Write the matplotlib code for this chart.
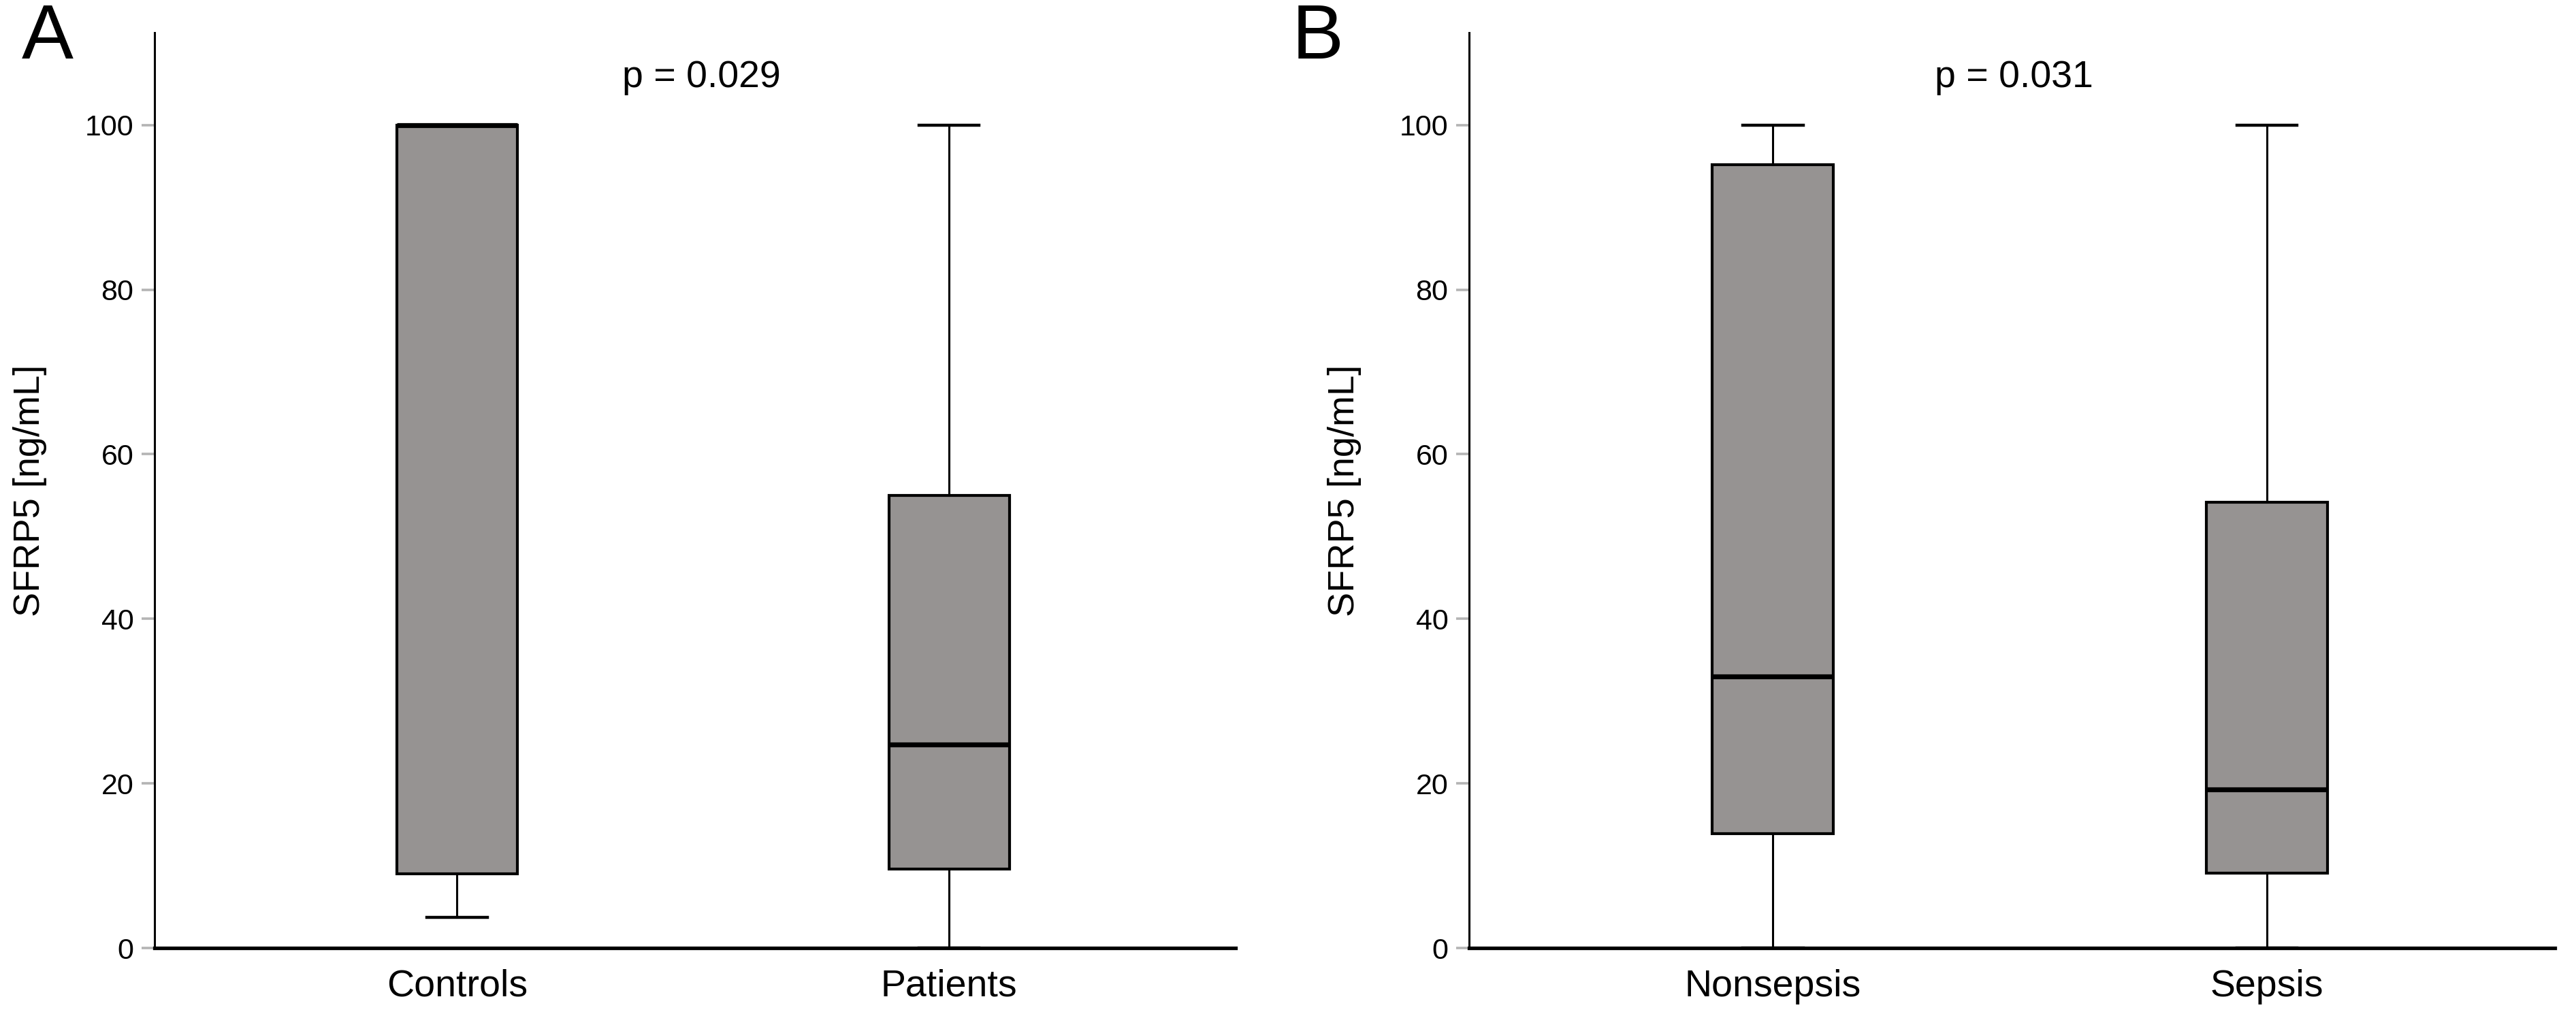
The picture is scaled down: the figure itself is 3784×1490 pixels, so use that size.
import matplotlib
matplotlib.use("Agg")
import matplotlib.pyplot as plt

plt.rcParams["font.family"] = ["Liberation Sans", "DejaVu Sans"]

# panel A
groups_a = ["Controls", "Patients"]
q1_a = [9.0, 9.6]
med_a = [100.0, 24.7]
q3_a = [100.0, 55.0]
whislo_a = [3.7, 0.0]
whishi_a = [100.0, 100.0]
p_a = "p = 0.029"

# panel B
groups_b = ["Nonsepsis", "Sepsis"]
q1_b = [13.9, 9.1]
med_b = [33.0, 19.3]
q3_b = [95.2, 54.2]
whislo_b = [0.0, 0.0]
whishi_b = [100.0, 100.0]
p_b = "p = 0.031"

yticks = [0, 20, 40, 60, 80, 100]
box_color = "#969392"


def make_stats(labels, q1, med, q3, lo, hi):
    return [dict(label=l, q1=a, med=m, q3=b, whislo=w0, whishi=w1, fliers=[])
            for l, a, m, b, w0, w1 in zip(labels, q1, med, q3, lo, hi)]


def draw_panel(ax, stats, ptext, px):
    ax.bxp(stats, positions=[1, 2], widths=0.245, patch_artist=True,
           showfliers=False,
           boxprops=dict(facecolor=box_color, edgecolor="black", linewidth=1.5),
           medianprops=dict(color="black", linewidth=2.6),
           whiskerprops=dict(color="black", linewidth=1.1),
           capprops=dict(color="black", linewidth=1.6),
           capwidths=0.122)
    ax.set_xlim(0.385, 2.582)
    ax.set_ylim(0, 111.2)
    ax.set_yticks(yticks)
    ax.spines["top"].set_visible(False)
    ax.spines["right"].set_visible(False)
    ax.spines["left"].set_linewidth(1.1)
    ax.spines["bottom"].set_linewidth(1.9)
    ax.spines["left"].set_zorder(3)
    ax.spines["bottom"].set_zorder(3)
    ax.tick_params(axis="y", length=7, width=1.3, color="#b4b4b4", pad=4, labelsize=15.5)
    ax.tick_params(axis="x", length=0, pad=11, labelsize=20)
    ax.set_ylabel("SFRP5 [ng/mL]", fontsize=19.5, labelpad=20)
    ax.text(px, 105.8, ptext, transform=ax.get_yaxis_transform(),
            ha="center", va="center", fontsize=20)


fig = plt.figure(figsize=(18.92, 7.45), dpi=200)
ax1 = fig.add_axes([0.060, 0.065, 0.4196, 0.9026])
ax2 = fig.add_axes([0.5703, 0.065, 0.4214, 0.9026])

draw_panel(ax1, make_stats(groups_a, q1_a, med_a, q3_a, whislo_a, whishi_a), p_a, 0.506)
draw_panel(ax2, make_stats(groups_b, q1_b, med_b, q3_b, whislo_b, whishi_b), p_b, 0.502)

fig.text(0.0085, 0.997, "A", fontsize=41, ha="left", va="top")
fig.text(0.5016, 0.997, "B", fontsize=41, ha="left", va="top")

fig.savefig("out.png", dpi=200, facecolor="white")
